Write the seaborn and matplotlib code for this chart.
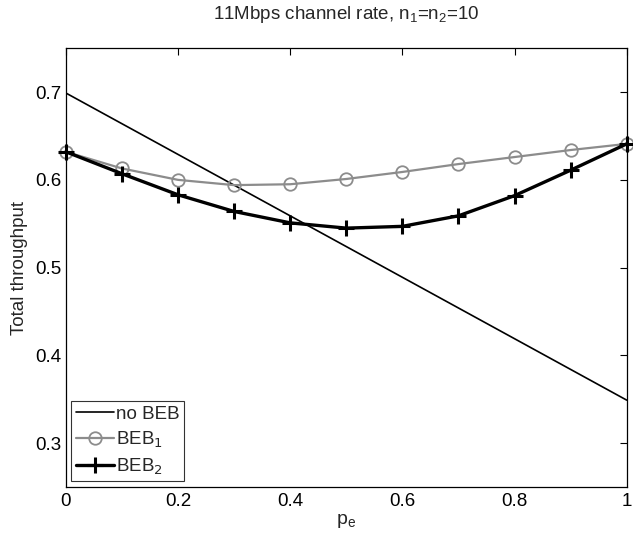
import numpy as np
import pandas as pd
import seaborn as sns
import matplotlib
matplotlib.use("Agg")
import matplotlib.pyplot as plt

pe = [0.0, 0.1, 0.2, 0.3, 0.4, 0.5, 0.6, 0.7, 0.8, 0.9, 1.0]
no_beb = [0.699, 0.664, 0.629, 0.594, 0.559, 0.524, 0.489, 0.454, 0.419, 0.384, 0.349]
beb1 = [0.632, 0.613, 0.600, 0.594, 0.595, 0.601, 0.609, 0.618, 0.626, 0.634, 0.641]
beb2 = [0.632, 0.607, 0.583, 0.564, 0.551, 0.545, 0.547, 0.559, 0.582, 0.611, 0.641]
xticks = [0, 0.2, 0.4, 0.6, 0.8, 1]
yticks = [0.3, 0.4, 0.5, 0.6, 0.7]

sns.set_style("white")
plt.rcParams['font.family'] = ['Liberation Sans', 'DejaVu Sans']

fig = plt.figure(figsize=(6.33, 5.42), dpi=100)
ax = fig.add_axes([0.104, 0.1015, 0.886, 0.8095])

df = pd.DataFrame({"pe": pe, "no BEB": no_beb, "BEB1": beb1, "BEB2": beb2})

sns.lineplot(data=df, x="pe", y="no BEB", ax=ax, color="black", linewidth=1.2,
             label="no BEB")
sns.lineplot(data=df, x="pe", y="BEB1", ax=ax, color="#8c8c8c", linewidth=1.6,
             marker="o", markersize=9, markerfacecolor="none",
             markeredgecolor="#8c8c8c", markeredgewidth=1.3, label="BEB$_1$",
             clip_on=False)
sns.lineplot(data=df, x="pe", y="BEB2", ax=ax, color="black", linewidth=2.4,
             marker="+", markersize=11, markeredgewidth=2.2,
             markeredgecolor="black", label="BEB$_2$", clip_on=False)

ax.set_xlim(0, 1)
ax.set_ylim(0.25, 0.75)
ax.set_xticks(xticks)
ax.set_xticklabels([f"{t:g}" for t in xticks])
ax.set_yticks(yticks)
ax.set_yticklabels([f"{t:g}" for t in yticks])
ax.tick_params(direction="in", length=5, width=0.8, top=True, right=True,
               labelsize=13.5, colors="black", pad=4)
ax.tick_params(axis="y", pad=3)
for s in ax.spines.values():
    s.set_visible(True)
    s.set_color("black")
    s.set_linewidth(0.9)

ax.set_xlabel("p$_\\mathregular{e}$", fontsize=14, labelpad=2)
ax.set_ylabel("Total throughput", fontsize=13.5, labelpad=5)
ax.set_title("11Mbps channel rate, n$_\\mathregular{1}$=n$_\\mathregular{2}$=10",
             fontsize=13.5, pad=21)

leg = ax.legend(loc="lower left", frameon=True, fancybox=False, fontsize=13.5,
                handlelength=2.0, handletextpad=0.1, borderaxespad=0.3,
                labelspacing=0.35, borderpad=0.25)
leg.get_frame().set_edgecolor("black")
leg.get_frame().set_linewidth(0.8)

fig.savefig("out.png", dpi=100)
